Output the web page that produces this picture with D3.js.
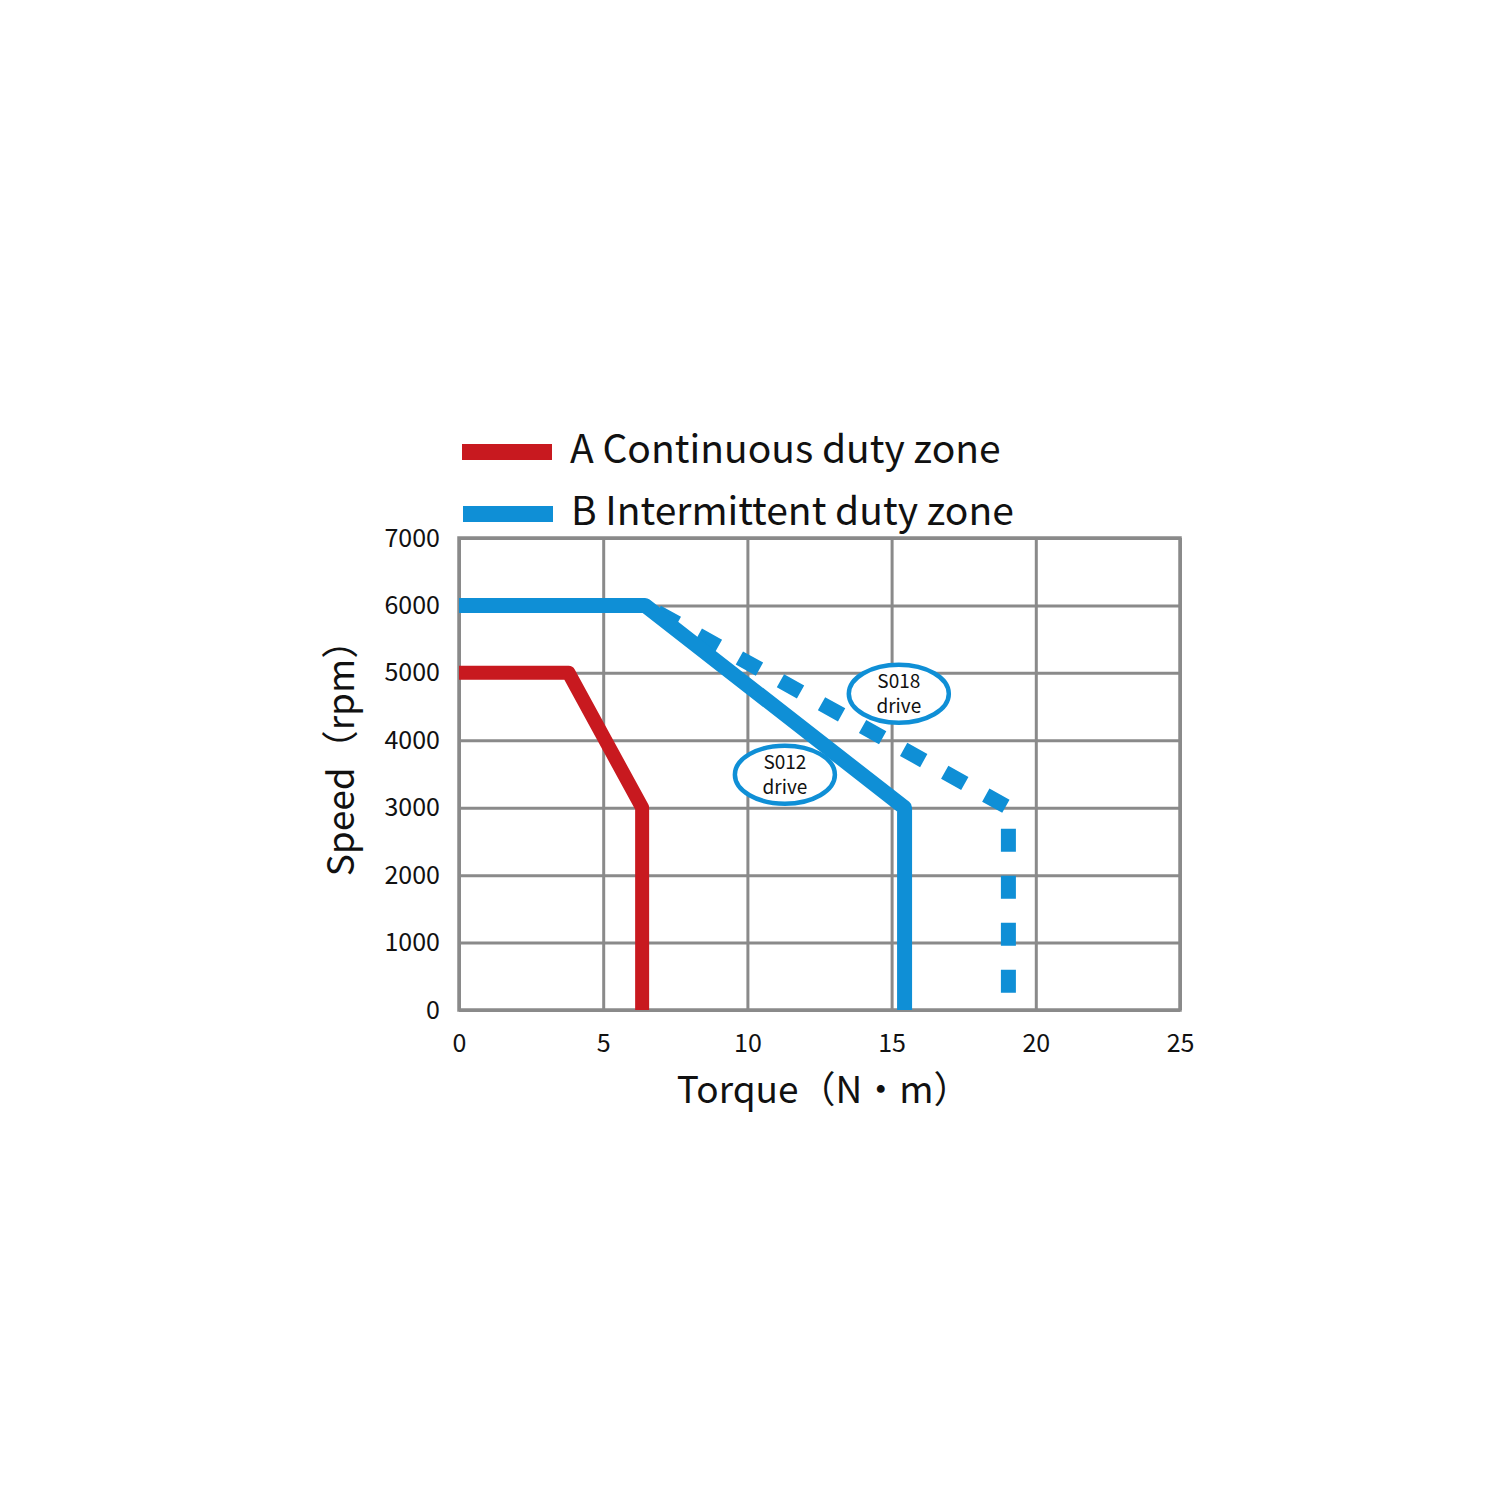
<!DOCTYPE html>
<html>
<head>
<meta charset="utf-8">
<script src="https://cdn.jsdelivr.net/npm/d3@7"></script>
<style>
  body { margin: 0; background: #fff; }
  svg text { font-family: "Noto Sans CJK SC", "Noto Sans", sans-serif; fill: #111; }
</style>
</head>
<body>
<svg id="chart" width="1500" height="1500"></svg>
<script>
// data
var xTicks = [0, 5, 10, 15, 20, 25];
var yTicks = [0, 1000, 2000, 3000, 4000, 5000, 6000, 7000];
var continuousZone = [[0, 5000], [3.8, 5000], [6.35, 3000], [6.35, 0]];
var intermittentS012 = [[0, 6000], [6.45, 6000], [15.45, 3000], [15.45, 0]];
var intermittentS018 = [[6.45, 6000], [19.05, 3000], [19.05, 0]];
var driveLabels = [
  {name: "S012", x: 11.3, y: 3490},
  {name: "S018", x: 15.25, y: 4690}
];
var legendItems = [
  {label: "A Continuous duty zone", color: "#c8191f"},
  {label: "B Intermittent duty zone", color: "#0f8fd6"}
];

// svg parameters
var svg = d3.select("#chart"),
    margin = {top: 538, left: 459},
    width = 721,
    height = 472;

var x = d3.scaleLinear().domain([0, 25]).range([0, width]),
    y = d3.scaleLinear().domain([0, 7000]).range([height, 0]);

var g = svg.append("g")
  .attr("transform", "translate(" + margin.left + "," + margin.top + ")");

// grid
g.append("g")
  .attr("class", "grid-x")
  .call(d3.axisBottom(x).tickValues(xTicks).tickSize(height).tickFormat(""))
  .call(function(s) { s.select(".domain").remove(); })
  .selectAll("line").attr("stroke", "#8a8a8a").attr("stroke-width", 3);

g.append("g")
  .attr("class", "grid-y")
  .call(d3.axisRight(y).tickValues(yTicks).tickSize(width).tickFormat(""))
  .call(function(s) { s.select(".domain").remove(); })
  .selectAll("line").attr("stroke", "#8a8a8a").attr("stroke-width", 3);

g.append("rect")
  .attr("width", width).attr("height", height)
  .attr("fill", "none").attr("stroke", "#8a8a8a").attr("stroke-width", 3.5);

// tick labels
g.append("g")
  .attr("transform", "translate(0," + height + ")")
  .call(d3.axisBottom(x).tickValues(xTicks).tickSize(0).tickPadding(24).tickFormat(d3.format("d")))
  .call(function(s) { s.select(".domain").remove(); })
  .selectAll("text").attr("font-size", 25).attr("fill", "#111");

g.append("g")
  .call(d3.axisLeft(y).tickValues(yTicks).tickSize(0).tickPadding(19).tickFormat(d3.format("d")))
  .call(function(s) { s.select(".domain").remove(); })
  .selectAll("text").attr("font-size", 25).attr("fill", "#111");

svg.selectAll(".tick text").style("font-family", "'Noto Sans CJK SC', sans-serif");

// axis titles
g.append("text")
  .attr("x", x(12.3) + 10).attr("y", height + 93)
  .attr("text-anchor", "middle")
  .attr("font-size", 37)
  .text("Torque（N·m）");

g.append("text")
  .attr("transform", "translate(-105," + (y(3500) - 25) + ") rotate(-90)")
  .attr("text-anchor", "middle")
  .attr("font-size", 37)
  .text("Speed（rpm）");

// curves
var line = d3.line()
  .x(function(d) { return x(d[0]); })
  .y(function(d) { return y(d[1]); });

g.append("path")
  .datum(intermittentS018)
  .attr("d", line)
  .attr("fill", "none")
  .attr("stroke", "#0f8fd6")
  .attr("stroke-width", 15)
  .attr("stroke-dasharray", "23,24")
  .attr("stroke-dashoffset", -14);

g.append("path")
  .datum(intermittentS012)
  .attr("d", line)
  .attr("fill", "none")
  .attr("stroke", "#0f8fd6")
  .attr("stroke-width", 15)
  .attr("stroke-linejoin", "round");

g.append("path")
  .datum(continuousZone)
  .attr("d", line)
  .attr("fill", "none")
  .attr("stroke", "#c8191f")
  .attr("stroke-width", 14)
  .attr("stroke-linejoin", "round");

// drive labels
var lab = g.selectAll(".drive")
    .data(driveLabels)
  .enter().append("g")
    .attr("class", "drive")
    .attr("transform", function(d) { return "translate(" + x(d.x) + "," + y(d.y) + ")"; });

lab.append("ellipse")
  .attr("rx", 50).attr("ry", 29)
  .attr("fill", "#fff")
  .attr("stroke", "#0f8fd6")
  .attr("stroke-width", 4.5);

var labText = lab.append("text")
  .attr("text-anchor", "middle")
  .attr("font-size", 19);
labText.append("tspan")
  .attr("x", 0).attr("y", -6)
  .text(function(d) { return d.name; });
labText.append("tspan")
  .attr("x", 0).attr("y", 19)
  .text("drive");

// legend
var legend = svg.selectAll(".legend")
    .data(legendItems)
  .enter().append("g")
    .attr("class", "legend")
    .attr("transform", function(d, i) { return "translate(462," + (452 + i * 62) + ")"; });

legend.append("rect")
  .attr("x", function(d, i) { return i; })
  .attr("y", -8)
  .attr("width", 90)
  .attr("height", 16)
  .attr("fill", function(d) { return d.color; });

legend.append("text")
  .attr("x", function(d, i) { return 108 + i; })
  .attr("y", 11)
  .attr("font-size", 39)
  .text(function(d) { return d.label; });
</script>
</body>
</html>
